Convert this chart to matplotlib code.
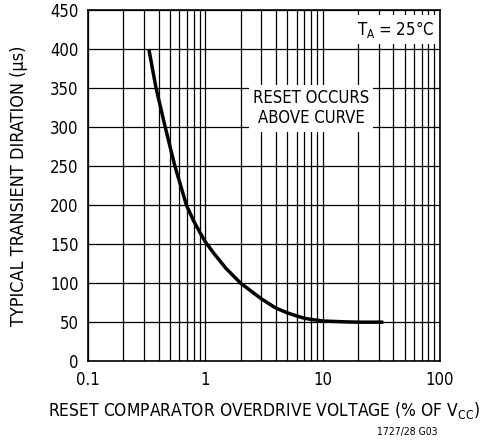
import numpy as np
import matplotlib.pyplot as plt
from matplotlib.ticker import FixedLocator, NullFormatter

plt.rcParams['font.family'] = ['DejaVu Sans']
plt.rcParams['font.stretch'] = 'condensed'

# curve: overdrive (% of Vcc) vs transient duration (us)
overdrive = [0.33, 0.38, 0.455, 0.55, 0.6, 0.69, 0.8, 0.9, 1.0, 1.2, 1.5, 2,
             3, 4, 5, 6, 7, 8, 10, 15, 20, 33]
duration = [400, 350, 300, 250, 231, 200, 179, 165, 153, 137, 119, 100,
            80, 68, 62, 58, 55, 53.5, 51.5, 50.5, 50, 50]

x_ticks = [0.1, 1, 10, 100]
x_labels = ["0.1", "1", "10", "100"]
y_ticks = list(range(0, 451, 50))

fig = plt.figure(figsize=(4.92, 4.41), dpi=100)
ax = fig.add_axes([0.179, 0.181, 0.715, 0.796])

ax.plot(overdrive, duration, color="black", lw=2.5, solid_capstyle="butt")

ax.set_xscale("log")
ax.set_xlim(0.1, 100)
ax.set_ylim(0, 450)
ax.set_xticks(x_ticks)
ax.set_xticklabels(x_labels)
minor = [m * d for d in (0.1, 1, 10) for m in range(2, 10)]
ax.xaxis.set_minor_locator(FixedLocator(minor))
ax.xaxis.set_minor_formatter(NullFormatter())
ax.set_yticks(y_ticks)

ax.grid(True, which="both", axis="x", color="black", lw=0.9)
ax.grid(True, which="major", axis="y", color="black", lw=0.9)
ax.tick_params(which="both", length=0, labelsize=12, pad=7)
for s in ax.spines.values():
    s.set_linewidth(1.2)

ax.set_xlabel("RESET COMPARATOR OVERDRIVE VOLTAGE (% OF V$_{\\mathregular{CC}}$)",
              fontsize=12.5, labelpad=8)
ax.set_ylabel("TYPICAL TRANSIENT DIRATION (\u00b5s)", fontsize=13, labelpad=16)

ax.text(0.985, 0.975, "T$_{\\mathregular{A}}$ = 25\u00b0C", transform=ax.transAxes,
        ha="right", va="top", fontsize=12,
        bbox=dict(facecolor="white", edgecolor="none", pad=3))
ax.text(0.634, 0.72, "RESET OCCURS\nABOVE CURVE", transform=ax.transAxes,
        ha="center", va="center", fontsize=12, linespacing=1.15,
        bbox=dict(facecolor="white", edgecolor="none", pad=3))

fig.text(0.89, 0.01, "1727/28 G03", ha="right", va="bottom", fontsize=7.5)

fig.savefig("out.png", dpi=100)
